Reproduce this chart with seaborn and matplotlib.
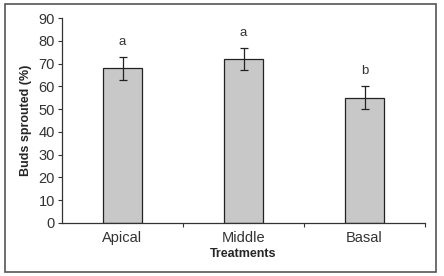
import numpy as np
import pandas as pd
import matplotlib
matplotlib.use("Agg")
import matplotlib.pyplot as plt
import seaborn as sns
from matplotlib.patches import Rectangle

treatments = ["Apical", "Middle", "Basal"]
sprouted = [68, 72, 55]
errors = [5, 5, 5]
letters = ["a", "a", "b"]
yticks = [0, 10, 20, 30, 40, 50, 60, 70, 80, 90]

sns.set_style("white")
plt.rcParams['font.family'] = ['Liberation Sans Narrow', 'Liberation Sans', 'DejaVu Sans']

df = pd.DataFrame({"Treatments": treatments, "Buds sprouted (%)": sprouted})

fig = plt.figure(figsize=(4.44, 2.76), dpi=100)
fig.patches.append(Rectangle((5 / 444, 4 / 276), 431 / 444, 268 / 276,
                             transform=fig.transFigure, fill=False,
                             edgecolor="#555555", linewidth=1.2))
ax = fig.add_axes([62 / 444, 1 - 223 / 276, 363 / 444, 205 / 276])

sns.barplot(data=df, x="Treatments", y="Buds sprouted (%)", ax=ax,
            color="#c8c8c8", edgecolor="#222222", linewidth=0.9,
            width=0.32, saturation=1)
ax.errorbar(range(len(treatments)), sprouted, yerr=errors, fmt="none",
            ecolor="#222222", elinewidth=0.9, capsize=3, capthick=0.9)
for i, (v, e, t) in enumerate(zip(sprouted, errors, letters)):
    ax.text(i, v + e + 4, t, ha="center", va="bottom", fontsize=9.5, color="#333333")

ax.set_xlim(-0.5, 2.5)
ax.set_ylim(0, 90)
ax.set_yticks(yticks)
ax.tick_params(axis="y", labelsize=10.5, colors="#333333", length=3, width=0.8,
               direction="out", left=True, pad=2)
ax.set_xticks([0, 1, 2])
ax.set_xticks([0.5, 1.5, 2.5], minor=True)
ax.tick_params(axis="x", which="major", length=0, labelsize=10.5,
               labelcolor="#333333", pad=6)
ax.tick_params(axis="x", which="minor", length=3, width=0.8,
               direction="out", bottom=True, color="#333333")
for s in ["top", "right"]:
    ax.spines[s].set_visible(False)
for s in ["left", "bottom"]:
    ax.spines[s].set_color("#333333")
    ax.spines[s].set_linewidth(0.9)
ax.set_xlabel("Treatments", fontsize=9, fontweight="bold", labelpad=2)
ax.set_ylabel("Buds sprouted (%)", fontsize=9, fontweight="bold", labelpad=5)

fig.savefig("out.png", dpi=100)
